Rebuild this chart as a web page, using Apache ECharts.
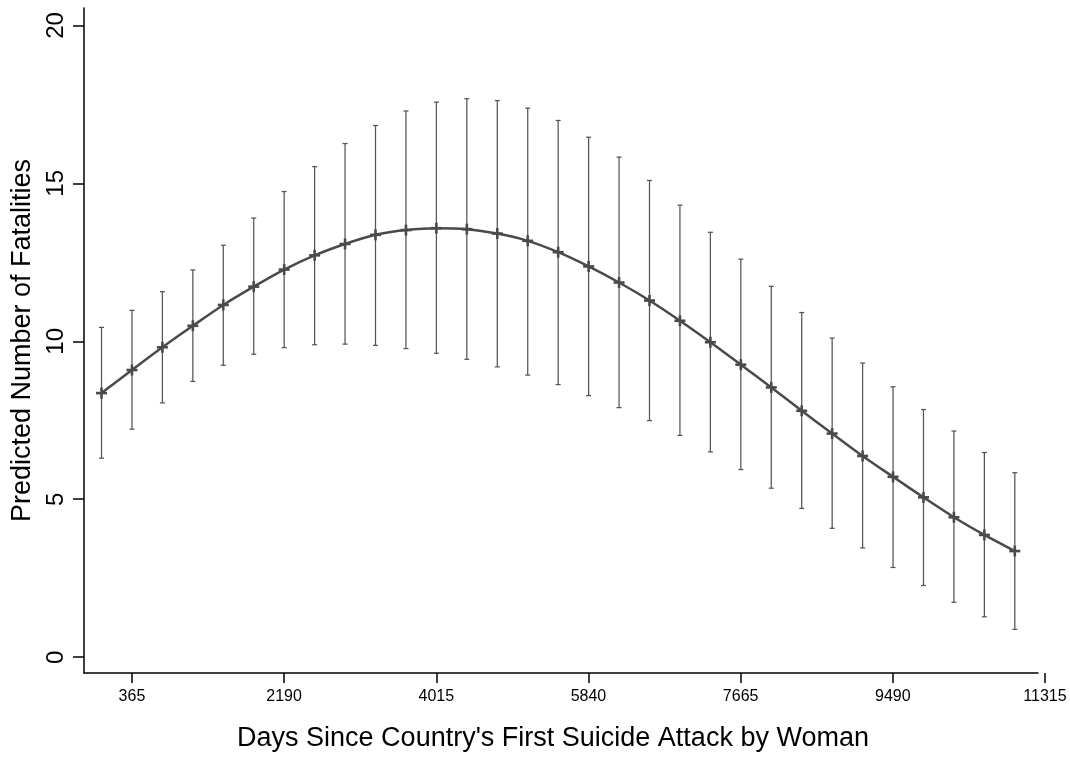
<!DOCTYPE html>
<html><head><meta charset="utf-8">
<script src="https://cdn.jsdelivr.net/npm/echarts@6/dist/echarts.min.js"></script>
<style>html,body{margin:0;padding:0;background:#fff}#c{width:1070px;height:758px}</style>
</head><body><div id="c"></div>
<script>
// Days since first attack (x positions of estimates)
const days = [0, 365, 730, 1095, 1460, 1825, 2190, 2555, 2920, 3285, 3650, 4015, 4380, 4745, 5110, 5475,
  5840, 6205, 6570, 6935, 7300, 7665, 8030, 8395, 8760, 9125, 9490, 9855, 10220, 10585, 10950];
// Predicted number of fatalities
const predicted = [8.36, 9.09, 9.81, 10.49, 11.15, 11.73, 12.27, 12.72, 13.08, 13.37, 13.52, 13.58, 13.55, 13.41, 13.18, 12.82,
  12.37, 11.86, 11.29, 10.65, 9.97, 9.26, 8.54, 7.80, 7.08, 6.37, 5.71, 5.06, 4.43, 3.87, 3.36];
// Confidence interval bounds
const upper = [10.44, 10.98, 11.57, 12.26, 13.04, 13.90, 14.74, 15.53, 16.26, 16.83, 17.29, 17.57, 17.68, 17.62, 17.38, 16.99,
  16.46, 15.83, 15.09, 14.31, 13.45, 12.60, 11.74, 10.91, 10.10, 9.31, 8.56, 7.84, 7.16, 6.48, 5.84];
const lower = [6.30, 7.22, 8.05, 8.73, 9.24, 9.59, 9.80, 9.89, 9.91, 9.87, 9.77, 9.62, 9.43, 9.19, 8.93, 8.63,
  8.28, 7.90, 7.49, 7.02, 6.50, 5.94, 5.35, 4.71, 4.08, 3.46, 2.84, 2.27, 1.74, 1.28, 0.88];
// Tick labels
const xTicks = [365, 2190, 4015, 5840, 7665, 9490, 11315];
const yTicks = [0, 5, 10, 15, 20];

const xTitle = "Days Since Country's First Suicide Attack by Woman";
const yTitle = "Predicted Number of Fatalities";

const FONT = '"Liberation Sans", Arial, Helvetica, sans-serif';
const X_MIN = -210, X_LINE_END = 11228, X_MAX = 11315;
const Y_MIN = -0.5, Y_MAX = 20.55;

const lineData = days.map((d, i) => [d, predicted[i]]);
const barData = days.map((d, i) => [d, lower[i], upper[i]]);
const plain = v => String(v);

const chart = echarts.init(document.getElementById('c'), null, {renderer: 'canvas'});
chart.setOption({
  animation: false,
  backgroundColor: '#fff',
  grid: [
    {left: 84, right: 32, top: 8, bottom: 85},
    {left: 84, right: 25, top: 8, bottom: 85}
  ],
  xAxis: [
    {type: 'value', gridIndex: 0, min: X_MIN, max: X_LINE_END,
      axisLine: {show: true, onZero: false, lineStyle: {color: '#000', width: 1.5}},
      axisTick: {show: false}, axisLabel: {show: false}, splitLine: {show: false},
      name: xTitle, nameLocation: 'middle', nameGap: 52,
      nameTextStyle: {fontSize: 27, fontFamily: FONT, color: '#000', padding: [0, 16, 0, 0]}},
    {type: 'value', gridIndex: 1, min: X_MIN, max: X_MAX,
      axisLine: {show: false, onZero: false},
      axisTick: {show: true, customValues: xTicks, length: 10, lineStyle: {color: '#000', width: 1.5}},
      axisLabel: {show: true, customValues: xTicks, formatter: plain, fontSize: 16, margin: 16, color: '#000', fontFamily: FONT},
      splitLine: {show: false}}
  ],
  yAxis: [
    {type: 'value', gridIndex: 0, min: Y_MIN, max: Y_MAX,
      axisLine: {show: true, onZero: false, lineStyle: {color: '#000', width: 1.5}},
      axisTick: {show: true, customValues: yTicks, length: 11, lineStyle: {color: '#000', width: 1.5}},
      axisLabel: {show: true, customValues: yTicks, formatter: plain, rotate: 90, fontSize: 24, margin: 16, color: '#000', fontFamily: FONT},
      splitLine: {show: false},
      name: yTitle, nameLocation: 'middle', nameGap: 46, nameRotate: 90,
      nameTextStyle: {fontSize: 27, fontFamily: FONT, color: '#000'}},
    {type: 'value', gridIndex: 1, min: Y_MIN, max: Y_MAX, show: false}
  ],
  series: [
    {type: 'custom', xAxisIndex: 0, yAxisIndex: 0, data: barData, z: 2,
      renderItem: function (params, api) {
        const x = api.value(0);
        const pLo = api.coord([x, api.value(1)]);
        const pHi = api.coord([x, api.value(2)]);
        const cw = 2.5;
        const st = {stroke: '#555555', lineWidth: 1.25};
        return {type: 'group', children: [
          {type: 'line', shape: {x1: pLo[0], y1: pLo[1], x2: pHi[0], y2: pHi[1]}, style: st},
          {type: 'line', shape: {x1: pLo[0] - cw, y1: pLo[1], x2: pLo[0] + cw, y2: pLo[1]}, style: st},
          {type: 'line', shape: {x1: pHi[0] - cw, y1: pHi[1], x2: pHi[0] + cw, y2: pHi[1]}, style: st}
        ]};
      }},
    {type: 'line', xAxisIndex: 0, yAxisIndex: 0, data: lineData, smooth: 0.3, showSymbol: false, z: 3,
      lineStyle: {color: '#4a4a4a', width: 2.5}},
    {type: 'custom', xAxisIndex: 0, yAxisIndex: 0, data: lineData, z: 4,
      renderItem: function (params, api) {
        const p = api.coord([api.value(0), api.value(1)]);
        const s = 5.5;
        const st = {stroke: '#4a4a4a', lineWidth: 2.6};
        return {type: 'group', children: [
          {type: 'line', shape: {x1: p[0] - s, y1: p[1], x2: p[0] + s, y2: p[1]}, style: st},
          {type: 'line', shape: {x1: p[0], y1: p[1] - s, x2: p[0], y2: p[1] + s}, style: st}
        ]};
      }}
  ]
});
</script>
</body></html>
